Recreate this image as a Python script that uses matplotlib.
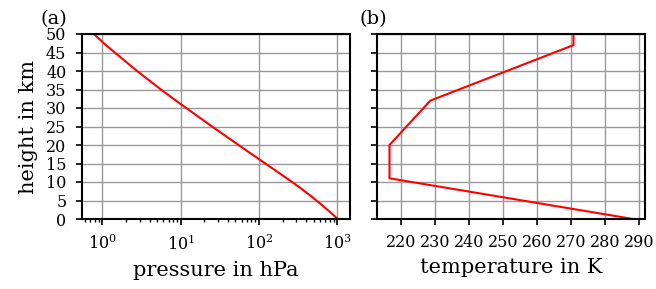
import numpy as np
import matplotlib
matplotlib.use("Agg")
import matplotlib.pyplot as plt

plt.rcParams['font.family'] = ['DejaVu Serif']
plt.rcParams['mathtext.fontset'] = 'dejavuserif'

# US standard atmosphere (read values)
height_p = [0, 1, 2, 3, 4, 5, 6, 7, 8, 9, 10, 11, 15, 20, 25, 32, 35, 40, 47, 50]
pressure = [1013.25, 898.8, 794.9, 701.0, 616.4, 540.2, 471.8, 410.6, 356.0, 307.4,
            264.4, 226.3, 120.45, 54.75, 25.11, 8.68, 5.589, 2.775, 1.109, 0.78]

height_t = [0, 11, 20, 32, 47, 50]
temperature = [288.15, 216.65, 216.65, 228.65, 270.65, 270.65]

fig = plt.figure(figsize=(6.56, 2.89), dpi=100)
ax1 = fig.add_axes([81.7/656, 1 - 219/289, (350 - 81.7)/656, (219 - 34)/289])
ax2 = fig.add_axes([377.3/656, 1 - 219/289, (645.3 - 377.3)/656, (219 - 34)/289])

for ax in (ax1, ax2):
    ax.grid(True, color='#999999', linewidth=1.0)
    ax.set_axisbelow(True)
    for s in ax.spines.values():
        s.set_linewidth(1.5)
    ax.tick_params(labelsize=11.5, width=1.2, length=4.5, pad=6.5)
    ax.tick_params(which='minor', width=1.0, length=2.5)
    ax.set_ylim(0, 50)
    ax.set_yticks(np.arange(0, 51, 5))

ax1.plot(pressure, height_p, color='red', linewidth=1.5)
ax1.set_xscale('log')
ax1.set_xlabel('pressure in hPa', fontsize=15, labelpad=5)
ax1.set_ylabel('height in km', fontsize=15, labelpad=6)
ax1.text(-0.155, 1.03, '(a)', transform=ax1.transAxes, fontsize=14, va='bottom')

ax2.plot(temperature, height_t, color='red', linewidth=1.5)
ax2.set_xticks(np.arange(220, 291, 10))
ax2.set_yticklabels([])
ax2.set_xlabel('temperature in K', fontsize=15, labelpad=5)
ax2.text(-0.065, 1.03, '(b)', transform=ax2.transAxes, fontsize=14, va='bottom')

fig.savefig('out.png', dpi=100)
